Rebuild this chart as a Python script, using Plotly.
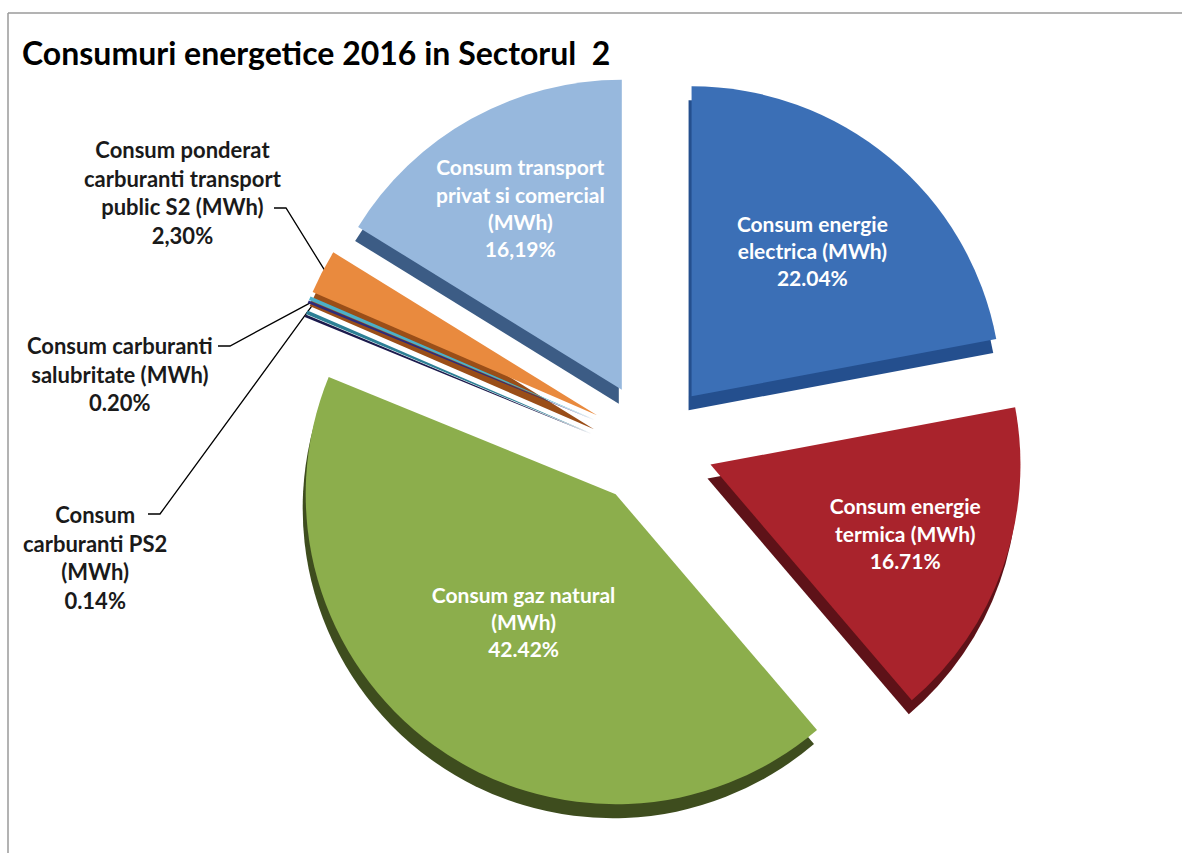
import math
import plotly.graph_objects as go

# --- data -------------------------------------------------------------
labels = [
    "Consum energie<br>electrica (MWh)",
    "Consum energie<br>termica (MWh)",
    "Consum gaz natural<br>(MWh)",
    "Consum<br>carburanti PS2<br>(MWh)",
    "Consum carburanti<br>salubritate (MWh)",
    "Consum ponderat<br>carburanti transport<br>public S2 (MWh)",
    "Consum transport<br>privat si comercial<br>(MWh)",
]
shares = [22.04, 16.71, 42.42, 0.14, 0.20, 2.30, 16.19]
decimal_sep = [".", ".", ".", ".", ".", ",", ","]
top_colors = ["#3B6FB6", "#A9232C", "#8CAE4C", "#2E2C7A", "#4BB0C9", "#E98A3E", "#97B8DD"]
side_colors = ["#244F8E", "#5E1218", "#3E4D1E", "#1B1A4C", "#2C7F95", "#9A4E18", "#3C5C85"]
outside = [False, False, False, True, True, True, False]

pct_text = [f"{v:.2f}".replace(".", s) + "%" for v, s in zip(shares, decimal_sep)]

# --- geometry ---------------------------------------------------------
W, H = 1182, 853
cx, cy = 652, 444          # pie centre (px, y down)
pull = 0.2
r_outer = 372              # radius including the pull
depth = 14                 # thickness of the extruded side

def dom(cx_, cy_):
    return dict(x=[(cx_ - r_outer) / W, (cx_ + r_outer) / W],
                y=[(H - cy_ - r_outer) / H, (H - cy_ + r_outer) / H])

FONT = "Lato"

inside_text = [("" if o else f"{l}<br>{p}") for l, p, o in zip(labels, pct_text, outside)]

fig = go.Figure()

# darker copy underneath gives the slices a thickness
fig.add_trace(go.Pie(
    values=shares, labels=labels, sort=False, direction="clockwise", rotation=0,
    pull=[pull] * len(shares), marker=dict(colors=side_colors),
    textinfo="none", hoverinfo="skip", showlegend=False,
    domain=dom(cx - 3, cy + depth),
))

fig.add_trace(go.Pie(
    values=shares, labels=labels, sort=False, direction="clockwise", rotation=0,
    pull=[pull] * len(shares), marker=dict(colors=top_colors),
    text=inside_text, textinfo="text", textposition="inside",
    insidetextorientation="horizontal",
    insidetextfont=dict(family=FONT, size=21, color="white", weight="bold"),
    hovertemplate="%{label}: %{value}%<extra></extra>",
    showlegend=False, domain=dom(cx, cy),
))

# --- leader lines and labels for the thin slices -----------------------
label_pos = {
    5: dict(x=183, y=192, tick=(274, 208)),
    4: dict(x=120, y=374, tick=(218, 346)),
    3: dict(x=95, y=557, tick=(148, 514)),
}
total = sum(shares)
cum = 0.0
tips = {}
for i, v in enumerate(shares):
    mid = (cum + v / 2) / total * 2 * math.pi
    tips[i] = (cx + r_outer * 0.985 * math.sin(mid), cy - r_outer * 0.985 * math.cos(mid))
    cum += v

for i, pos in label_pos.items():
    tx, ty = pos["tick"]
    px, py = tips[i]
    fig.add_trace(go.Scatter(
        x=[tx, tx + 12, px], y=[ty, ty, py], mode="lines",
        line=dict(color="black", width=1.3), hoverinfo="skip", showlegend=False,
    ))
    fig.add_annotation(
        x=pos["x"], y=pos["y"], xref="x", yref="y", showarrow=False,
        text=f"{labels[i]}<br>{pct_text[i]}", align="center",
        font=dict(family=FONT, size=22, color="#1a1a1a", weight="bold"),
    )

fig.update_layout(
    width=W, height=H, margin=dict(l=0, r=0, t=0, b=0),
    paper_bgcolor="white", plot_bgcolor="rgba(0,0,0,0)",
    xaxis=dict(range=[0, W], visible=False, fixedrange=True),
    yaxis=dict(range=[H, 0], visible=False, fixedrange=True),
    title=dict(text="<b>Consumuri energetice 2016 in Sectorul  2</b>",
               x=22 / W, xanchor="left", y=1 - 54 / H, yanchor="middle",
               font=dict(family=FONT, size=32, color="black")),
    shapes=[
        dict(type="line", xref="paper", yref="paper", x0=8 / W, x1=1, y0=1 - 13 / H, y1=1 - 13 / H,
             line=dict(color="#9a9a9a", width=1.5)),
        dict(type="line", xref="paper", yref="paper", x0=8 / W, x1=8 / W, y0=0, y1=1 - 13 / H,
             line=dict(color="#9a9a9a", width=1.5)),
    ],
)

fig.write_html("out.html")
